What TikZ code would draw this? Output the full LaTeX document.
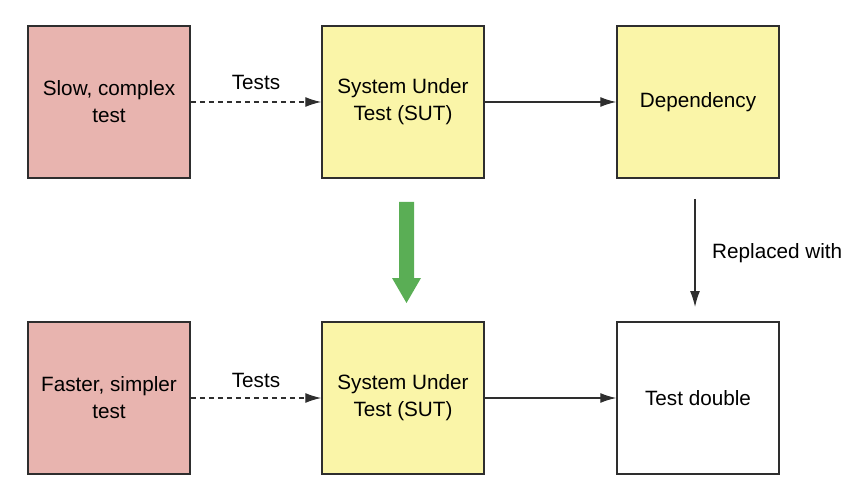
\documentclass[tikz,border=0pt]{standalone}
\usepackage{fontspec}
\setmainfont{Liberation Sans}
\usetikzlibrary{arrows.meta}
\definecolor{pinkbox}{HTML}{E8B4AF}
\definecolor{yellowbox}{HTML}{FAF5A8}
\definecolor{greenarr}{HTML}{5AAE55}
\definecolor{edge}{HTML}{2E2E2E}
\begin{document}
\begin{tikzpicture}[x=1pt,y=-1pt,
  box/.style={draw=edge,line width=1.5pt,minimum width=162pt,minimum height=152pt,align=center,inner sep=0pt,font=\fontsize{20.7}{27}\selectfont},
  pinkb/.style={box,fill=pinkbox},
  yellowb/.style={box,fill=yellowbox},
  whiteb/.style={box,fill=white},
  conn/.style={draw=edge,line width=1.3pt,-{Latex[length=16pt,width=10pt]}},
  dconn/.style={conn,dash pattern=on 5pt off 4pt},
  lbl/.style={font=\fontsize{20.7}{26}\selectfont,inner sep=0pt}]
\useasboundingbox (0,0) rectangle (856,486);
\node[pinkb] (slow) at (109,102) {Slow, complex\\test};
\node[yellowb] (sut1) at (403,102) {System Under\\Test (SUT)};
\node[yellowb] (dep) at (698,102) {Dependency};
\node[pinkb] (fast) at (109,398) {Faster, simpler\\test};
\node[yellowb] (sut2) at (403,398) {System Under\\Test (SUT)};
\node[whiteb] (dbl) at (698,398) {Test double};
\draw[dconn] (slow.east) -- (sut1.west);
\draw[conn] (sut1.east) -- (dep.west);
\draw[dconn] (fast.east) -- (sut2.west);
\draw[conn] (sut2.east) -- (dbl.west);
\node[lbl] (t1) at (256,82) {Tests};
\node[lbl] (t2) at (256,380) {Tests};
\coordinate (rs) at (695,199);
\coordinate (re) at (695,307);
\draw[conn] (rs) -- (re);
\node[lbl,anchor=west] (rw) at (712,253) {Replaced with};
\fill[greenarr] (399,202) -- (414,202) -- (414,278) -- (421,278) -- (406.5,303) -- (392,278) -- (399,278) -- cycle;
\end{tikzpicture}
\end{document}
